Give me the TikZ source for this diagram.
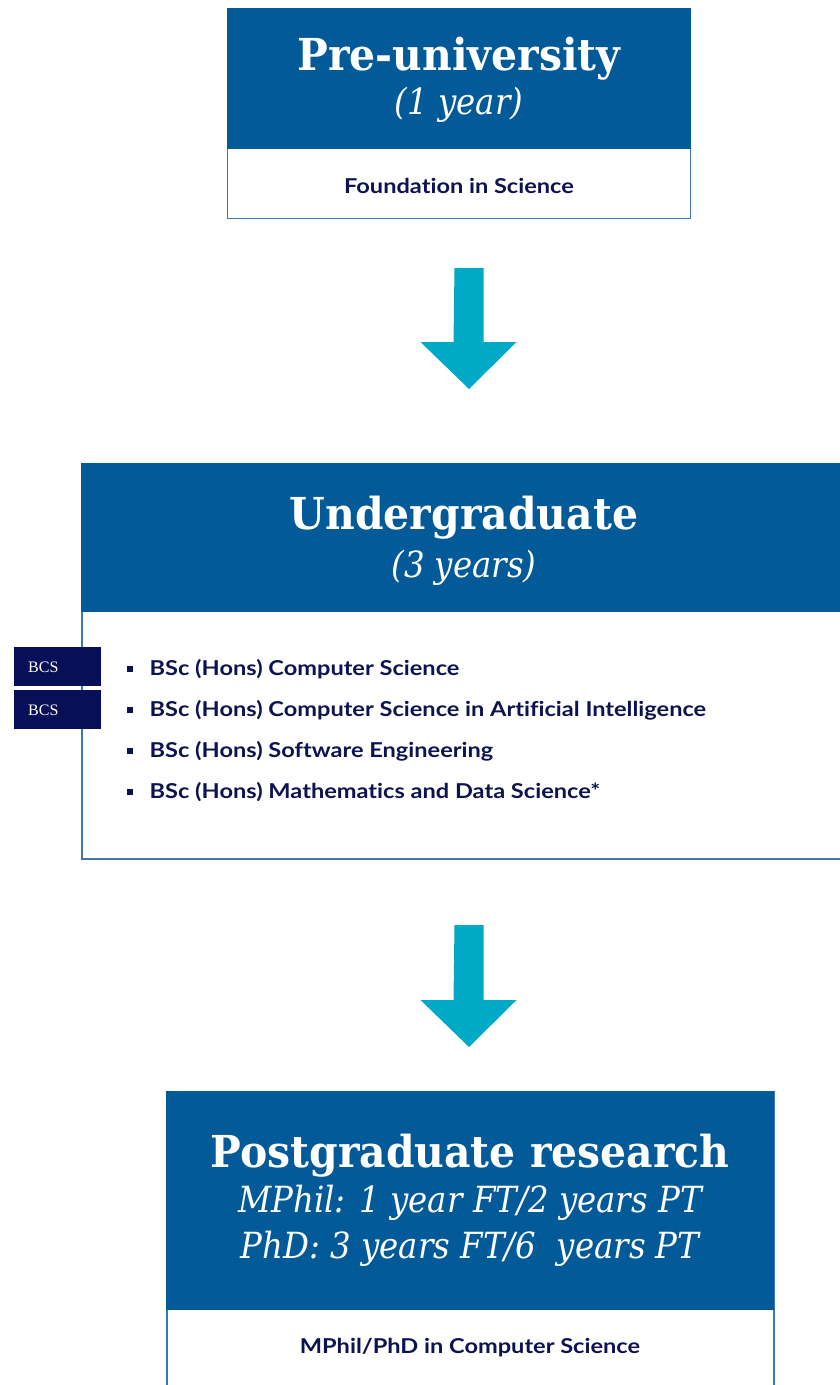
\documentclass[tikz,border=0pt]{standalone}
\usepackage{fontspec}
\newfontfamily\ttlfont{DejaVu Serif}[FakeStretch=0.93]
\newfontfamily\subfont{DejaVu Serif}[FakeStretch=0.9]
\newfontfamily\bodyfont{Lato}[FakeStretch=1.15, Ligatures={NoCommon}]
\newfontfamily\bcsfont{Liberation Serif}
\definecolor{hdr}{HTML}{025A99}
\definecolor{edge}{HTML}{3B78B2}
\definecolor{navy}{HTML}{0D1250}
\definecolor{bcs}{HTML}{060F57}
\definecolor{arr}{HTML}{00A9C6}
\tikzset{
  hdrbox/.style={fill=hdr, draw=hdr, anchor=north west, inner sep=0pt},
  bodybox/.style={fill=white, draw=edge, line width=1pt, anchor=north west, inner sep=0pt},
  ttl/.style={text=white, font=\ttlfont\bfseries\fontsize{44}{48}\selectfont, inner sep=0pt},
  sub/.style={text=white, font=\subfont\itshape\fontsize{36}{40}\selectfont, inner sep=0pt},
  bodytext/.style={text=navy, font=\bodyfont\bfseries\fontsize{20.5}{24}\selectfont, inner sep=0pt},
  bcsbox/.style={fill=bcs, anchor=north west, minimum width=87pt, minimum height=39pt, inner sep=0pt},
  bcstext/.style={text=white, font=\bcsfont\fontsize{16}{18}\selectfont, inner sep=0pt, anchor=west},
  blockarrow/.style={fill=arr}
}
\newcommand{\bul}{\rule[3.5pt]{5.5pt}{5.5pt}\hspace{17pt}}
\begin{document}
\begin{tikzpicture}[x=1pt,y=-1pt]
\useasboundingbox (0,0) rectangle (840,1385);
% --- Pre-university
\node[bodybox, minimum width=463pt, minimum height=210pt] (pre) at (227,8) {};
\node[hdrbox, minimum width=463pt, minimum height=140pt] (preh) at (227,8) {};
\node[ttl] (pret) at (459,59) {Pre-university};
\node[sub] (pres) at (459,105) {(1 year)};
\node[bodytext] (preb) at (459,186) {Foundation in Science};
% --- arrow 1
\coordinate (a1) at (469,268);
\fill[blockarrow] (a1) ++(-14.5,0) -- ++(29,0) -- ++(0,74) -- ++(33,0) -- ++(-47.5,47) -- ++(-48.5,-47) -- ++(33,0) -- cycle;
% --- Undergraduate
\node[bodybox, line width=2pt, minimum width=780pt, minimum height=395pt] (ug) at (81,463) {};
\node[hdrbox, minimum width=780pt, minimum height=148pt] (ugh) at (81,463) {};
\node[ttl] (ugt) at (464,518) {Undergraduate};
\node[sub] (ugs) at (464,568) {(3 years)};
\node[bodytext, anchor=west] (l1) at (127,669) {\bul BSc (Hons) Computer Science};
\node[bodytext, anchor=west] (l2) at (127,710) {\bul BSc (Hons) Computer Science in Artificial Intelligence};
\node[bodytext, anchor=west] (l3) at (127,751) {\bul BSc (Hons) Software Engineering};
\node[bodytext, anchor=west] (l4) at (127,792) {\bul BSc (Hons) Mathematics and Data Science*};
\node[bcsbox] (b1) at (14,647) {};
\node[bcstext] at (28,667) {BCS};
\node[bcsbox] (b2) at (14,690) {};
\node[bcstext] at (28,710) {BCS};
% --- arrow 2
\coordinate (a2) at (469,925);
\fill[blockarrow] (a2) ++(-14.5,0) -- ++(29,0) -- ++(0,75) -- ++(33,0) -- ++(-47.5,47) -- ++(-48.5,-47) -- ++(33,0) -- cycle;
% --- Postgraduate
\node[bodybox, line width=1.5pt, minimum width=607pt, minimum height=320pt] (pg) at (166,1091) {};
\node[hdrbox, minimum width=607pt, minimum height=218pt] (pgh) at (166,1091) {};
\node[ttl] (pgt) at (470,1156) {Postgraduate research};
\node[sub] (pgs1) at (470,1203) {MPhil: 1 year FT/2 years PT};
\node[sub] (pgs2) at (470,1249) {PhD: 3 years FT/6\ \ years PT};
\node[bodytext] (pgb) at (470,1348) {MPhil/PhD in Computer Science};
\end{tikzpicture}
\end{document}
